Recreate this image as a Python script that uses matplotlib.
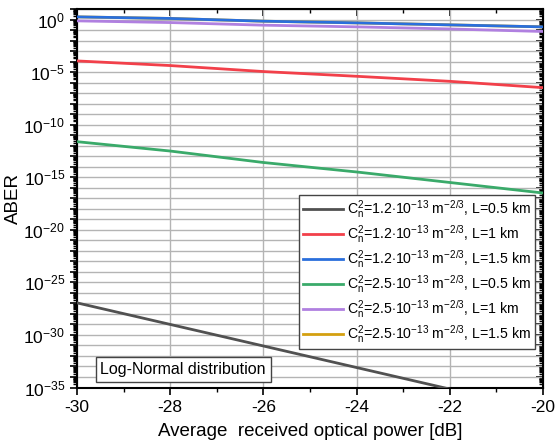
import matplotlib
matplotlib.use("Agg")
import matplotlib.pyplot as plt
import matplotlib.ticker as mt
import numpy as np

plt.rcParams['font.family'] = ['Liberation Sans', 'DejaVu Sans']
plt.rcParams['mathtext.fontset'] = 'custom'
plt.rcParams['mathtext.rm'] = 'Liberation Sans'
plt.rcParams['mathtext.it'] = 'Liberation Sans'

# received optical power [dB]
power = [-30, -28, -26, -24, -22, -20]

# log10(ABER)
log_k12_05 = [-26.95, -29.0, -31.05, -33.1, -35.15, -37.2]
log_k12_10 = [-3.94, -4.38, -4.95, -5.40, -5.88, -6.48]
log_k12_15 = [0.25, 0.10, -0.16, -0.32, -0.51, -0.70]
log_k25_05 = [-11.62, -12.51, -13.6, -14.5, -15.5, -16.5]
log_k25_10 = [-0.13, -0.29, -0.54, -0.70, -0.90, -1.14]
log_k25_15 = [0.25, 0.10, -0.16, -0.32, -0.51, -0.70]  # hidden under the blue one

labels = [
    r'C$_\mathregular{n}^\mathregular{2}$=1.2$\cdot$10$^{-13}$ m$^{-2/3}$, L=0.5 km',
    r'C$_\mathregular{n}^\mathregular{2}$=1.2$\cdot$10$^{-13}$ m$^{-2/3}$, L=1 km',
    r'C$_\mathregular{n}^\mathregular{2}$=1.2$\cdot$10$^{-13}$ m$^{-2/3}$, L=1.5 km',
    r'C$_\mathregular{n}^\mathregular{2}$=2.5$\cdot$10$^{-13}$ m$^{-2/3}$, L=0.5 km',
    r'C$_\mathregular{n}^\mathregular{2}$=2.5$\cdot$10$^{-13}$ m$^{-2/3}$, L=1 km',
    r'C$_\mathregular{n}^\mathregular{2}$=2.5$\cdot$10$^{-13}$ m$^{-2/3}$, L=1.5 km',
]
series = [log_k12_05, log_k12_10, log_k12_15, log_k25_05, log_k25_10, log_k25_15]
colors = ['#515151', '#f2404a', '#2a6fdc', '#3aaa6a', '#b080e0', '#d4a010']
zorders = [3, 3, 3, 3, 3, 2]

fig = plt.figure(figsize=(5.56, 4.45), dpi=100)
ax = fig.add_axes([0.1385, 0.1292, 0.838, 0.8506])

for s, lab, c, z in zip(series, labels, colors, zorders):
    ax.plot(power, 10.0 ** np.array(s), color=c, lw=2.0, label=lab, zorder=z)

ax.set_yscale('log')
ax.set_xlim(-30, -20)
ax.set_ylim(1e-35, 1e1)

ax.xaxis.set_major_locator(mt.MultipleLocator(2))
ax.xaxis.set_minor_locator(mt.MultipleLocator(1))
ax.xaxis.set_major_formatter(mt.FuncFormatter(lambda v, p: '%d' % v))

ax.yaxis.set_major_locator(mt.LogLocator(base=10, numticks=60))
ax.yaxis.set_minor_locator(mt.LogLocator(base=10, subs=np.arange(2, 10), numticks=60))
def yfmt(v, p):
    e = int(round(np.log10(v)))
    if e % 5 == 0:
        return r'10$^{%d}$' % e
    return ''
ax.yaxis.set_major_formatter(mt.FuncFormatter(yfmt))
ax.yaxis.set_minor_formatter(mt.NullFormatter())

ax.grid(True, which='major', color='#b4b4b4', lw=1.0)
ax.set_axisbelow(True)

ax.tick_params(axis='both', which='major', direction='out', length=5, width=1.2, labelsize=12.5)
ax.tick_params(axis='both', which='minor', direction='out', length=3, width=1.0)
ax.tick_params(axis='x', which='major', pad=4)
for sp in ax.spines.values():
    sp.set_linewidth(1.5)

# mirrored axes with inward ticks
top = ax.secondary_xaxis('top')
top.xaxis.set_major_locator(mt.MultipleLocator(2))
top.xaxis.set_minor_locator(mt.MultipleLocator(1))
top.tick_params(which='major', direction='in', length=5, width=1.2, labeltop=False)
top.tick_params(which='minor', direction='in', length=3, width=1.0)
right = ax.secondary_yaxis('right')
right.set_yscale('log')
right.yaxis.set_major_locator(mt.LogLocator(base=10, numticks=60))
right.yaxis.set_minor_locator(mt.LogLocator(base=10, subs=np.arange(2, 10), numticks=60))
right.tick_params(which='major', direction='in', length=5, width=1.2, labelright=False)
right.tick_params(which='minor', direction='in', length=3, width=1.0)

ax.set_xlabel('Average  received optical power [dB]', fontsize=13.5, labelpad=6)
ax.set_ylabel('ABER', fontsize=13.5)
ax.yaxis.set_label_coords(-0.118, 0.5)

leg = ax.legend(loc='upper right', bbox_to_anchor=(0.983, 0.509), borderaxespad=0,
                fontsize=10.2, handlelength=2.85, labelspacing=0.22, handletextpad=0.3,
                fancybox=False, framealpha=1, edgecolor='#444444', borderpad=0.25)
leg.get_frame().set_linewidth(1.0)

ax.text(0.05, 0.048, 'Log-Normal distribution', transform=ax.transAxes, fontsize=11.5,
        va='center', ha='left',
        bbox=dict(boxstyle='square,pad=0.3', fc='white', ec='#444444', lw=1.0))

fig.savefig('out.png', dpi=100)
